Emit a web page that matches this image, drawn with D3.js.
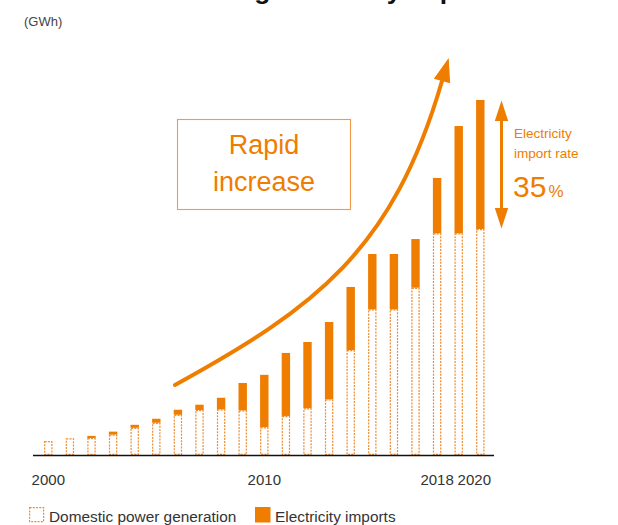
<!DOCTYPE html>
<html><head><meta charset="utf-8">
<script src="https://cdn.jsdelivr.net/npm/d3@7"></script>
<style>
html,body{margin:0;padding:0;background:#fff;}
svg{display:block;font-family:"Liberation Sans",Arial,Helvetica,sans-serif;}
</style></head>
<body>
<svg id="chart" width="618" height="525"></svg>
<script>
// ---- data ----
const years = d3.range(2000, 2021);
const domestic = [470, 565, 575, 690, 920, 1090, 1360, 1520, 1545, 1510, 940, 1320, 1580, 1880, 3550, 4925, 4925, 5655, 7495, 7495, 7640];
const imports  = [0, 0, 70, 100, 100, 135, 170, 180, 390, 925, 1770, 2130, 2240, 2615, 2130, 1870, 1870, 1645, 1870, 3625, 4360];
const tickLabels = ["2000", "2010", "2018", "2020"];
const seriesNames = ["Domestic power generation", "Electricity imports"];
const titleText = "Increasing electricity imports";
const unitText = "(GWh)";
const importRate = "35";

const ORANGE = "#EF7D00";
const DASH = "#EF8B30";
const svg = d3.select("#chart");

const x = d3.scalePoint().domain(years).range([48.3, 480.3]);
const y = d3.scaleLinear().domain([0, 12000]).range([455, 100]);
const bw = 8.4;

// title (cut off at top, as in the reference)
svg.append("text").attr("x", 322).attr("y", -1).attr("text-anchor", "middle")
  .attr("font-size", 26.5).attr("font-weight", "bold").attr("fill", "#111").text(titleText);

svg.append("text").attr("x", 24).attr("y", 26).attr("font-size", 13).attr("fill", "#444").text(unitText);

// bars
const data = years.map((yr, i) => ({yr, d: domestic[i], m: imports[i]}));
const g = svg.append("g");
g.selectAll("rect.dom").data(data).join("rect").attr("class", "dom")
  .attr("x", d => x(d.yr) - bw / 2 + 0.6)
  .attr("y", d => y(d.d) + 0.6)
  .attr("width", bw - 1.2)
  .attr("height", d => y(0) - y(d.d) - 1.2)
  .attr("fill", "#fff").attr("stroke", DASH).attr("stroke-width", 1.2)
  .attr("stroke-dasharray", "2 1.2");
g.selectAll("rect.imp").data(data.filter(d => d.m > 0)).join("rect").attr("class", "imp")
  .attr("x", d => x(d.yr) - bw / 2)
  .attr("y", d => y(d.d + d.m))
  .attr("width", bw)
  .attr("height", d => y(d.d) - y(d.d + d.m))
  .attr("fill", ORANGE);

// baseline
svg.append("line").attr("x1", 33).attr("x2", 494).attr("y1", 455.5).attr("y2", 455.5)
  .attr("stroke", "#111").attr("stroke-width", 1.3);

// x labels
svg.selectAll("text.xl").data(tickLabels).join("text").attr("class", "xl")
  .attr("x", d => x(+d) + (d === "2020" ? -6 : 0))
  .attr("y", 485).attr("text-anchor", "middle").attr("font-size", 15).attr("fill", "#333")
  .text(d => d);

// rapid increase box
svg.append("rect").attr("x", 177.5).attr("y", 119.5).attr("width", 173).attr("height", 90)
  .attr("fill", "none").attr("stroke", "#F29A4A").attr("stroke-width", 1.1);
svg.append("text").attr("x", 264).attr("y", 153.5).attr("text-anchor", "middle")
  .attr("font-size", 27).attr("fill", ORANGE).text("Rapid");
svg.append("text").attr("x", 264).attr("y", 190.5).attr("text-anchor", "middle")
  .attr("font-size", 27).attr("fill", ORANGE).text("increase");

// curved arrow
const P0 = [175, 385], P1 = [315, 308], P2 = [392.7, 251], P3 = [442, 81];
const path = d3.path();
path.moveTo(...P0);
path.bezierCurveTo(...P1, ...P2, ...P3);
svg.append("path").attr("d", path.toString()).attr("fill", "none")
  .attr("stroke", ORANGE).attr("stroke-width", 4).attr("stroke-linecap", "round");
{
  const dx = P3[0] - P2[0], dy = P3[1] - P2[1], L = Math.hypot(dx, dy);
  const ux = dx / L, uy = dy / L, px = -uy, py = ux;
  const tip = [P3[0] + 24 * ux, P3[1] + 24 * uy];
  const b1 = [P3[0] + 8.5 * px, P3[1] + 8.5 * py];
  const b2 = [P3[0] - 8.5 * px, P3[1] - 8.5 * py];
  svg.append("path").attr("d", `M${tip}L${b1}L${b2}Z`).attr("fill", ORANGE);
}

// double arrow for import rate
const ax = 501.5;
svg.append("line").attr("x1", ax).attr("x2", ax).attr("y1", 115).attr("y2", 214)
  .attr("stroke", ORANGE).attr("stroke-width", 3);
svg.append("path").attr("d", `M${ax},100.5L${ax + 6.7},121L${ax - 6.7},121Z`).attr("fill", ORANGE);
svg.append("path").attr("d", `M${ax},228.5L${ax + 6.7},208L${ax - 6.7},208Z`).attr("fill", ORANGE);
svg.append("text").attr("x", 514).attr("y", 137.7).attr("font-size", 13.5).attr("fill", ORANGE).text("Electricity");
svg.append("text").attr("x", 514).attr("y", 158.3).attr("font-size", 13.5).attr("fill", ORANGE).text("import rate");
const rt = svg.append("text").attr("x", 513).attr("y", 197.3).attr("fill", ORANGE);
rt.append("tspan").attr("font-size", 30).text(importRate);
rt.append("tspan").attr("font-size", 17).attr("dx", 2).text("%");

// legend
const lg = svg.append("g");
lg.append("rect").attr("x", 29.6).attr("y", 507.6).attr("width", 14).attr("height", 14)
  .attr("fill", "#fff").attr("stroke", DASH).attr("stroke-width", 1.2).attr("stroke-dasharray", "2 1.2");
lg.append("text").attr("x", 49).attr("y", 521.5).attr("font-size", 15.4).attr("fill", "#333").text(seriesNames[0]);
lg.append("rect").attr("x", 255).attr("y", 507).attr("width", 15.5).attr("height", 15.5).attr("fill", ORANGE);
lg.append("text").attr("x", 275).attr("y", 521.5).attr("font-size", 15.4).attr("fill", "#333").text(seriesNames[1]);
</script>
</body></html>
